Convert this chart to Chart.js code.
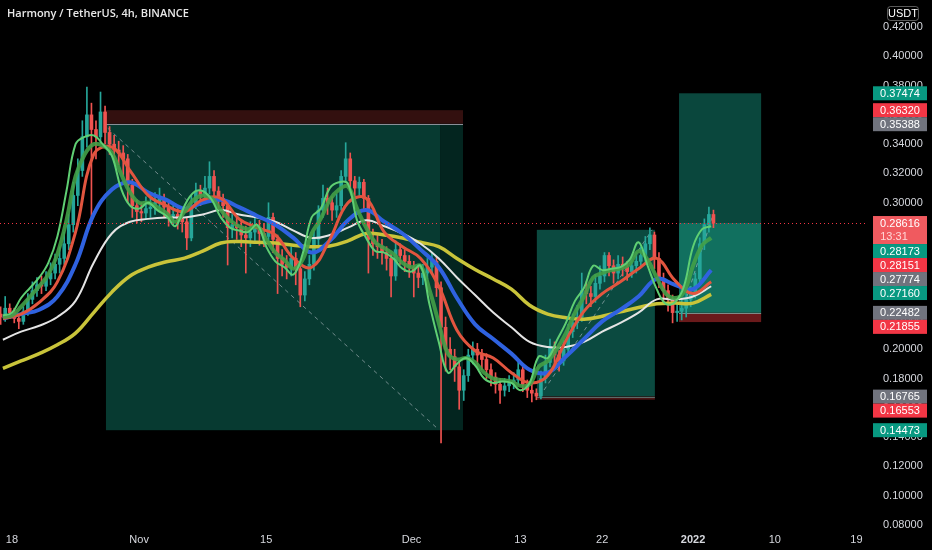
<!DOCTYPE html>
<html>
<head>
<meta charset="utf-8">
<title>Harmony / TetherUS, 4h, BINANCE</title>
<script src="https://cdn.jsdelivr.net/npm/chart.js@4.4.1/dist/chart.umd.min.js"></script>
<style>
    html, body { margin: 0; padding: 0; background: #000; }
    #wrap { position: relative; width: 932px; height: 550px; }
</style>
</head>
<body>
<div id="wrap"><canvas id="price-canvas" width="932" height="550"></canvas></div>
<script>
// days are counted from 18 Oct 2021 00:00, one candle = 12h
var startDay = -1.25;
var candleStep = 0.5;
var firstOpen = 0.224;

var closes = [
    0.222, 0.228, 0.225, 0.221, 0.219, 0.226, 0.234, 0.240, 0.244, 0.243,
    0.248, 0.252, 0.258, 0.262, 0.272, 0.285, 0.305, 0.322, 0.345, 0.360,
    0.350, 0.345, 0.362, 0.348, 0.340, 0.336, 0.334, 0.330, 0.312, 0.298,
    0.294, 0.293, 0.296, 0.297, 0.300, 0.303, 0.297, 0.291, 0.292, 0.289,
    0.287, 0.276, 0.298, 0.308, 0.305, 0.310, 0.318, 0.308, 0.303, 0.298,
    0.283, 0.285, 0.283, 0.278, 0.276, 0.280, 0.283, 0.279, 0.277, 0.290,
    0.275, 0.262, 0.258, 0.256, 0.262, 0.255, 0.237, 0.248, 0.258, 0.275,
    0.295, 0.303, 0.300, 0.295, 0.298, 0.318, 0.330, 0.315, 0.310, 0.314,
    0.303, 0.275, 0.272, 0.270, 0.266, 0.262, 0.250, 0.268, 0.264, 0.260,
    0.256, 0.252, 0.249, 0.252, 0.256, 0.260, 0.242, 0.215, 0.200, 0.195,
    0.188, 0.172, 0.182, 0.196, 0.200, 0.196, 0.193, 0.186, 0.181, 0.176,
    0.172, 0.175, 0.177, 0.179, 0.186, 0.176, 0.172, 0.170, 0.168, 0.180,
    0.191, 0.202, 0.196, 0.192, 0.200, 0.212, 0.218, 0.222, 0.240, 0.238,
    0.236, 0.245, 0.250, 0.264, 0.257, 0.252, 0.258, 0.256, 0.253, 0.257,
    0.260, 0.264, 0.272, 0.278, 0.262, 0.248, 0.240, 0.234, 0.225, 0.226,
    0.228, 0.234, 0.238, 0.248, 0.272, 0.285, 0.292, 0.28616
];
var highs = [
    0.229, 0.236, 0.231, 0.228, 0.224, 0.229, 0.238, 0.246, 0.249, 0.250,
    0.253, 0.259, 0.265, 0.270, 0.280, 0.292, 0.314, 0.330, 0.356, 0.379,
    0.368, 0.356, 0.3756, 0.366, 0.352, 0.346, 0.342, 0.339, 0.333, 0.316,
    0.302, 0.300, 0.304, 0.305, 0.307, 0.310, 0.306, 0.300, 0.298, 0.296,
    0.293, 0.290, 0.305, 0.3135, 0.312, 0.318, 0.328, 0.322, 0.311, 0.306,
    0.301, 0.292, 0.291, 0.288, 0.284, 0.287, 0.291, 0.288, 0.286, 0.300,
    0.293, 0.278, 0.268, 0.264, 0.270, 0.266, 0.258, 0.253, 0.264, 0.281,
    0.298, 0.312, 0.310, 0.304, 0.306, 0.322, 0.341, 0.334, 0.318, 0.3176,
    0.316, 0.305, 0.282, 0.278, 0.275, 0.270, 0.265, 0.274, 0.272, 0.268,
    0.264, 0.260, 0.256, 0.258, 0.262, 0.266, 0.263, 0.246, 0.222, 0.208,
    0.200, 0.192, 0.186, 0.200, 0.205, 0.204, 0.200, 0.197, 0.190, 0.184,
    0.180, 0.180, 0.182, 0.184, 0.1927, 0.189, 0.179, 0.176, 0.173, 0.185,
    0.196, 0.207, 0.205, 0.199, 0.206, 0.217, 0.224, 0.230, 0.252, 0.246,
    0.243, 0.251, 0.257, 0.266, 0.266, 0.261, 0.264, 0.263, 0.260, 0.263,
    0.266, 0.270, 0.277, 0.2828, 0.280, 0.266, 0.252, 0.244, 0.237, 0.232,
    0.234, 0.238, 0.243, 0.252, 0.276, 0.289, 0.297, 0.295
];
var lows = [
    0.217, 0.219, 0.221, 0.218, 0.214, 0.217, 0.223, 0.231, 0.236, 0.238,
    0.240, 0.244, 0.248, 0.252, 0.258, 0.268, 0.280, 0.298, 0.318, 0.338,
    0.286, 0.330, 0.340, 0.340, 0.333, 0.328, 0.326, 0.318, 0.300, 0.290,
    0.286, 0.287, 0.289, 0.290, 0.292, 0.294, 0.290, 0.284, 0.285, 0.282,
    0.280, 0.268, 0.274, 0.296, 0.298, 0.300, 0.306, 0.302, 0.296, 0.290,
    0.2575, 0.276, 0.275, 0.270, 0.252, 0.270, 0.274, 0.271, 0.270, 0.274,
    0.266, 0.238, 0.250, 0.248, 0.250, 0.244, 0.229, 0.233, 0.244, 0.254,
    0.270, 0.290, 0.292, 0.288, 0.290, 0.295, 0.314, 0.310, 0.303, 0.305,
    0.296, 0.252, 0.264, 0.262, 0.258, 0.254, 0.2357, 0.247, 0.258, 0.253,
    0.249, 0.2357, 0.242, 0.244, 0.248, 0.252, 0.236, 0.136, 0.185, 0.186,
    0.178, 0.159, 0.165, 0.178, 0.190, 0.188, 0.186, 0.180, 0.175, 0.170,
    0.163, 0.168, 0.171, 0.173, 0.176, 0.171, 0.167, 0.164, 0.1655, 0.166,
    0.177, 0.188, 0.190, 0.185, 0.189, 0.197, 0.208, 0.214, 0.219, 0.231,
    0.229, 0.232, 0.241, 0.246, 0.250, 0.245, 0.248, 0.250, 0.247, 0.249,
    0.252, 0.256, 0.260, 0.268, 0.255, 0.242, 0.232, 0.226, 0.218, 0.219,
    0.220, 0.222, 0.229, 0.235, 0.246, 0.268, 0.280, 0.283
];

// moving averages
var slowDays = [-1, 1, 3, 5, 7, 9, 11, 13, 15, 17, 19, 21, 23, 25, 27, 29, 31, 33, 35, 37,
    39, 41, 43, 45, 47, 49, 51, 53, 55, 57, 59, 61, 63, 65, 67, 69, 71, 73, 75, 77];
var ma200 = [0.187, 0.192, 0.197, 0.203, 0.211, 0.225, 0.239, 0.250, 0.256, 0.2597,
    0.2622, 0.267, 0.2725, 0.2735, 0.273, 0.2725, 0.271, 0.270, 0.2705, 0.274,
    0.279, 0.278, 0.276, 0.273, 0.270, 0.262, 0.2545, 0.248, 0.241, 0.230,
    0.224, 0.2215, 0.2205, 0.2225, 0.2255, 0.2285, 0.231, 0.2315, 0.2315, 0.2375];
var ma100 = [0.2065, 0.212, 0.216, 0.222, 0.233, 0.259, 0.279, 0.287, 0.289, 0.290,
    0.290, 0.292, 0.295, 0.292, 0.290, 0.287, 0.281, 0.276, 0.278, 0.283,
    0.288, 0.284, 0.279, 0.272, 0.262, 0.249, 0.237, 0.225, 0.215, 0.205,
    0.2015, 0.2015, 0.205, 0.212, 0.218, 0.225, 0.234, 0.234, 0.236, 0.243];
var ma50 = [0.221, 0.224, 0.227, 0.236, 0.258, 0.292, 0.309, 0.314, 0.307, 0.302,
    0.296, 0.300, 0.302, 0.297, 0.291, 0.285, 0.276, 0.266, 0.274, 0.288,
    0.295, 0.287, 0.279, 0.268, 0.256, 0.235, 0.217, 0.207, 0.197, 0.186,
    0.184, 0.195, 0.207, 0.219, 0.227, 0.236, 0.248, 0.244, 0.241, 0.254];
var ma21 = [0.221, 0.224, 0.232, 0.246, 0.280, 0.333, 0.338, 0.322, 0.305, 0.298,
    0.294, 0.302, 0.303, 0.289, 0.283, 0.278, 0.262, 0.256, 0.275, 0.300,
    0.303, 0.280, 0.270, 0.262, 0.243, 0.213, 0.199, 0.194, 0.184, 0.177,
    0.182, 0.206, 0.226, 0.238, 0.246, 0.255, 0.262, 0.247, 0.238, 0.246];

var fastDays = [-1, 0, 1, 2, 3, 4, 5, 6, 7, 8, 9, 10, 11, 12, 13, 14, 15, 16, 17, 18, 19,
    20, 21, 22, 23, 24, 25, 26, 27, 28, 29, 30, 31, 32, 33, 34, 35, 36, 37, 38, 39,
    40, 41, 42, 43, 44, 45, 46, 47, 48, 49, 50, 51, 52, 53, 54, 55, 56, 57, 58, 59,
    60, 61, 62, 63, 64, 65, 66, 67, 68, 69, 70, 71, 72, 73, 74, 75, 76, 77];
var ma13 = [0.222, 0.223, 0.229, 0.236, 0.243, 0.251, 0.265, 0.288, 0.318, 0.333,
    0.340, 0.339, 0.334, 0.320, 0.307, 0.300, 0.300, 0.297, 0.293, 0.287,
    0.294, 0.302, 0.305, 0.303, 0.295, 0.288, 0.284, 0.282, 0.284, 0.275,
    0.266, 0.261, 0.255, 0.261, 0.279, 0.289, 0.302, 0.309, 0.311, 0.296,
    0.283, 0.273, 0.269, 0.265, 0.259, 0.256, 0.257, 0.240, 0.218, 0.197,
    0.193, 0.194, 0.191, 0.184, 0.180, 0.179, 0.178, 0.175, 0.176, 0.188,
    0.192, 0.200, 0.211, 0.225, 0.236, 0.249, 0.252, 0.254, 0.255, 0.258,
    0.267, 0.261, 0.249, 0.238, 0.235, 0.239, 0.257, 0.271, 0.276];
var ma8 = [0.223, 0.225, 0.235, 0.242, 0.249, 0.259, 0.277, 0.308, 0.340, 0.345,
    0.346, 0.340, 0.332, 0.310, 0.298, 0.296, 0.300, 0.295, 0.291, 0.284,
    0.298, 0.307, 0.308, 0.302, 0.290, 0.283, 0.281, 0.280, 0.285, 0.270,
    0.260, 0.256, 0.251, 0.265, 0.290, 0.296, 0.310, 0.314, 0.313, 0.288,
    0.276, 0.267, 0.266, 0.262, 0.255, 0.253, 0.257, 0.230, 0.205, 0.184,
    0.190, 0.194, 0.189, 0.180, 0.177, 0.178, 0.177, 0.172, 0.177, 0.195,
    0.194, 0.206, 0.218, 0.233, 0.242, 0.257, 0.254, 0.255, 0.256, 0.261,
    0.273, 0.257, 0.241, 0.231, 0.232, 0.243, 0.270, 0.282, 0.284];

// x axis labels (days from 18 Oct)
var tickDays = [0, 14, 28, 44, 56, 65, 75, 84, 93];
var tickLabels = ['18', 'Nov', '15', 'Dec', '13', '22', '2022', '10', '19'];

// position tools: days and prices
var shortTrade = { from: 10.35, to: 49.67, closed: 47.14, entry: 0.35388, stop: 0.36320, target: 0.14473 };
var longTrade1 = { from: 57.8, to: 70.8, entry: 0.16765, stop: 0.16553, target: 0.28151 };
var longTrade2 = { from: 73.46, to: 82.5, entry: 0.22482, stop: 0.21855, target: 0.37474 };
var lastPrice = 0.28616;
var countdown = '13:31';

// labels on the price scale
var axisPrices = [0.37474, 0.36320, 0.35388, 0.28616, 0.28173, 0.28151, 0.27774, 0.27160, 0.22482, 0.21855, 0.16765, 0.16553, 0.14473];
var axisKinds = ['up', 'down', 'flat', 'last', 'up', 'down', 'flat', 'up', 'flat', 'down', 'flat', 'down', 'up'];

var upColor = '#26a69a';
var downColor = '#ef5350';
var labelColors = { up: '#089981', down: '#f23645', flat: '#70737d', last: '#f05a5f' };
var textColor = '#d6d8de';
var axisFont = '"Liberation Sans", Arial, sans-serif';

var candles = closes.map(function (c, i) {
    return {
        x: startDay + i * candleStep,
        o: i === 0 ? firstOpen : closes[i - 1],
        c: c,
        h: highs[i],
        l: lows[i]
    };
});

function pairs(days, values) {
    return days.map(function (d, i) { return { x: d, y: values[i] }; });
}

function lineSet(days, values, color, width, order) {
    return {
        type: 'line',
        data: pairs(days, values),
        borderColor: color,
        borderWidth: width,
        pointRadius: 0,
        tension: 0.4,
        fill: false,
        order: order
    };
}

function drawPositions(chart) {
    var ctx = chart.ctx;
    var xs = chart.scales.x;
    var ys = chart.scales.y;
    var area = chart.chartArea;

    function rect(x0, x1, p0, p1, color) {
        var left = xs.getPixelForValue(x0), right = xs.getPixelForValue(x1);
        var top = ys.getPixelForValue(Math.max(p0, p1)), bottom = ys.getPixelForValue(Math.min(p0, p1));
        ctx.fillStyle = color;
        ctx.fillRect(left, top, right - left, bottom - top);
    }
    function hline(x0, x1, p, color) {
        var y = Math.round(ys.getPixelForValue(p)) + 0.5;
        ctx.strokeStyle = color;
        ctx.lineWidth = 1;
        ctx.beginPath();
        ctx.moveTo(xs.getPixelForValue(x0), y);
        ctx.lineTo(xs.getPixelForValue(x1), y);
        ctx.stroke();
    }
    function dashed(x0, p0, x1, p1) {
        ctx.save();
        ctx.setLineDash([4, 4]);
        ctx.strokeStyle = 'rgba(200, 205, 215, 0.55)';
        ctx.lineWidth = 1;
        ctx.beginPath();
        ctx.moveTo(xs.getPixelForValue(x0), ys.getPixelForValue(p0));
        ctx.lineTo(xs.getPixelForValue(x1), ys.getPixelForValue(p1));
        ctx.stroke();
        ctx.restore();
    }

    ctx.save();
    ctx.beginPath();
    ctx.rect(area.left, area.top, area.right - area.left, area.bottom - area.top);
    ctx.clip();

    // short trade
    var s = shortTrade;
    rect(s.from, s.to, s.stop, s.entry, '#33100f');
    rect(s.from, s.closed, s.entry, s.target, '#073a31');
    rect(s.closed, s.to, s.entry, s.target, '#03251f');
    hline(s.from, s.to, s.entry, '#8a8f98');
    dashed(s.from + 0.2, s.entry - 0.003, 46.8, 0.1462);

    // first long
    var a = longTrade1;
    rect(a.from, a.to, a.entry, a.target, '#0b4a40');
    rect(a.from, a.to, a.stop, a.entry, '#4a1616');
    hline(a.from, a.to, a.entry, '#5c6a68');
    dashed(a.from + 0.3, a.entry, 70.5, a.target);

    // second long, filled part up to the last price
    var b = longTrade2;
    rect(b.from, b.to, lastPrice, b.target, '#0a473d');
    rect(b.from, b.to, b.entry, lastPrice, '#11705f');
    rect(b.from, b.to, b.stop, b.entry, '#6a1a1b');
    hline(b.from, b.to, b.entry, '#7d8a88');
    dashed(b.from + 0.3, b.entry, 77.2, 0.292);

    ctx.restore();
}

function drawPriceLine(chart) {
    var ctx = chart.ctx;
    var area = chart.chartArea;
    var y = Math.round(chart.scales.y.getPixelForValue(lastPrice)) + 0.5;
    ctx.save();
    ctx.setLineDash([1, 3]);
    ctx.strokeStyle = '#f23645';
    ctx.lineWidth = 1;
    ctx.beginPath();
    ctx.moveTo(area.left, y);
    ctx.lineTo(area.right, y);
    ctx.stroke();
    ctx.restore();
}

function drawAxisLabels(chart) {
    var ctx = chart.ctx;
    var ys = chart.scales.y;
    var boxLeft = 873, boxWidth = 54, rowH = 14;
    var lastBottom = -1000;
    ctx.save();
    ctx.font = '11px ' + axisFont;
    ctx.textAlign = 'center';
    ctx.textBaseline = 'middle';
    axisPrices.forEach(function (p, i) {
        var kind = axisKinds[i];
        var yp = ys.getPixelForValue(p);
        var top = yp - rowH / 2;
        var h = kind === 'last' ? 28 : rowH;
        if (top < lastBottom) top = lastBottom;
        ctx.fillStyle = labelColors[kind];
        ctx.fillRect(boxLeft, top, boxWidth, h);
        ctx.fillStyle = '#ffffff';
        ctx.fillText(p.toFixed(5), boxLeft + boxWidth / 2, top + rowH / 2 + 0.5);
        if (kind === 'last') {
            ctx.fillStyle = '#ffd6d6';
            ctx.fillText(countdown, boxLeft + boxWidth / 2 - 6, top + rowH + rowH / 2);
        }
        lastBottom = top + h;
    });

    // currency box
    ctx.strokeStyle = 'rgba(255, 255, 255, 0.35)';
    ctx.lineWidth = 1;
    ctx.beginPath();
    if (ctx.roundRect) ctx.roundRect(887.5, 6.5, 31, 14, 3); else ctx.rect(887.5, 6.5, 31, 14);
    ctx.stroke();
    ctx.fillStyle = '#ffffff';
    ctx.fillText('USDT', 903, 14);

    // title
    ctx.textAlign = 'left';
    ctx.font = '600 11px "Open Sans", sans-serif';
    ctx.fillStyle = '#e8e8e8';
    ctx.fillText('Harmony / TetherUS, 4h, BINANCE', 7, 14);
    ctx.restore();
}

var overlayPlugin = {
    id: 'overlay',
    beforeDraw: function (chart) {
        var ctx = chart.ctx;
        ctx.save();
        ctx.fillStyle = '#000000';
        ctx.fillRect(0, 0, chart.width, chart.height);
        ctx.restore();
    },
    beforeDatasetsDraw: drawPositions,
    afterDatasetsDraw: drawPriceLine,
    afterDraw: drawAxisLabels
};

function noPadding(scale) {
    scale.paddingLeft = 0;
    scale.paddingRight = 0;
    scale.paddingTop = 0;
    scale.paddingBottom = 0;
}

var chartConfig = {
    type: 'bar',
    data: {
        datasets: [
            lineSet(fastDays, ma8, '#5fcf73', 2, 1),
            lineSet(fastDays, ma13, 'rgba(67, 160, 71, 0.9)', 4, 2),
            lineSet(slowDays, ma21, '#e2553f', 3, 3),
            lineSet(slowDays, ma50, '#2f62e0', 4, 4),
            lineSet(slowDays, ma100, '#e4e4e4', 2, 5),
            lineSet(slowDays, ma200, '#c9c43a', 3.5, 6),
            {
                type: 'bar',
                data: candles.map(function (k) { return { x: k.x, y: [k.o, k.c] }; }),
                backgroundColor: candles.map(function (k) { return k.c >= k.o ? upColor : downColor; }),
                barThickness: 3,
                minBarLength: 1,
                grouped: false,
                order: 9
            },
            {
                type: 'bar',
                data: candles.map(function (k) { return { x: k.x, y: [k.l, k.h] }; }),
                backgroundColor: candles.map(function (k) { return k.c >= k.o ? upColor : downColor; }),
                barThickness: 1,
                grouped: false,
                order: 10
            }
        ]
    },
    options: {
        responsive: false,
        animation: false,
        layout: { padding: 0 },
        plugins: {
            legend: { display: false },
            tooltip: { enabled: false },
            title: { display: false }
        },
        scales: {
            x: {
                type: 'linear',
                min: -1.32,
                max: 94.27,
                offset: false,
                grid: { display: false, drawTicks: false },
                border: { display: false },
                afterBuildTicks: function (scale) {
                    scale.ticks = tickDays.map(function (d) { return { value: d }; });
                },
                afterFit: function (scale) {
                    scale.height = 22;
                    noPadding(scale);
                },
                ticks: {
                    autoSkip: false,
                    maxRotation: 0,
                    padding: 5,
                    color: textColor,
                    font: function (c) {
                        var bold = c.tick && tickLabels[c.index] === '2022';
                        return { family: axisFont, size: 11, weight: bold ? 'bold' : 'normal' };
                    },
                    callback: function (value, index) { return tickLabels[index]; }
                }
            },
            y: {
                position: 'right',
                min: 0.07795,
                max: 0.43843,
                grid: { display: false, drawTicks: false },
                border: { display: false },
                afterFit: function (scale) {
                    scale.width = 64;
                    noPadding(scale);
                },
                ticks: {
                    stepSize: 0.02,
                    includeBounds: false,
                    padding: 15,
                    color: textColor,
                    font: { family: axisFont, size: 11 },
                    callback: function (v) { return v.toFixed(5); }
                }
            }
        }
    },
    plugins: [overlayPlugin]
};

var ctx = document.getElementById('price-canvas').getContext('2d');
window.priceChart = new Chart(ctx, chartConfig);
</script>
</body>
</html>
